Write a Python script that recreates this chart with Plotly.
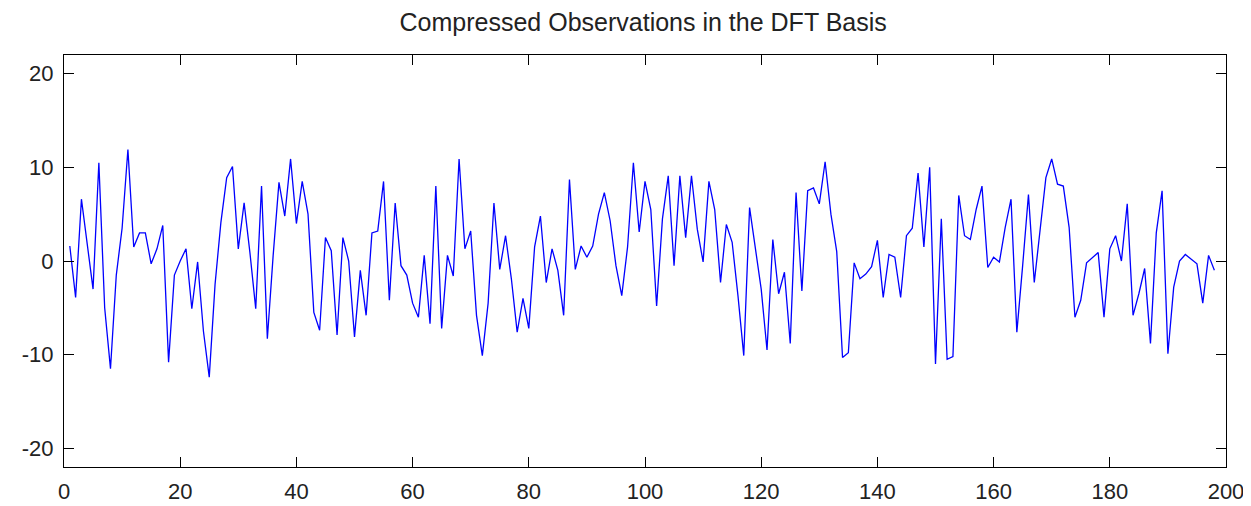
import plotly.graph_objects as go

title_text = "Compressed Observations in the DFT Basis"

x_values = list(range(1, 199))
y_values = [
    1.6, -3.9, 6.6, 2.0, -3.0, 10.5, -5.0, -11.5, -1.5, 3.5,
    11.9, 1.5, 3.0, 3.0, -0.3, 1.3, 3.8, -10.8, -1.5, 0.0,
    1.3, -5.1, -0.1, -7.5, -12.4, -2.5, 4.1, 8.9, 10.1, 1.3,
    6.2, 0.9, -5.1, 8.0, -8.3, 0.6, 8.4, 4.8, 10.9, 4.0,
    8.5, 5.0, -5.5, -7.4, 2.5, 1.1, -7.9, 2.5, 0.0, -8.1,
    -1.0, -5.8, 3.0, 3.2, 8.5, -4.2, 6.2, -0.5, -1.5, -4.5,
    -6.0, 0.6, -6.7, 8.0, -7.2, 0.6, -1.6, 10.9, 1.3, 3.2,
    -5.8, -10.1, -4.5, 6.2, -0.9, 2.7, -1.9, -7.6, -4.0, -7.2,
    1.5, 4.8, -2.3, 1.3, -1.0, -5.8, 8.7, -0.9, 1.6, 0.4,
    1.6, 5.0, 7.3, 4.3, -0.5, -3.7, 1.5, 10.5, 3.1, 8.5,
    5.5, -4.8, 4.5, 9.1, -0.5, 9.1, 2.5, 9.1, 3.4, -0.1,
    8.5, 5.5, -2.3, 3.9, 2.0, -3.7, -10.1, 5.7, 1.5, -3.0,
    -9.5, 2.3, -3.5, -1.2, -8.8, 7.3, -3.2, 7.5, 7.8, 6.1,
    10.6, 5.0, 1.0, -10.3, -9.8, -0.2, -1.9, -1.4, -0.6, 2.2,
    -3.9, 0.7, 0.4, -3.9, 2.7, 3.5, 9.4, 1.5, 10.0, -11.0,
    4.5, -10.5, -10.2, 7.0, 2.7, 2.3, 5.5, 8.0, -0.7, 0.4,
    -0.1, 3.6, 6.6, -7.6, -0.5, 7.1, -2.3, 3.0, 8.9, 10.9,
    8.2, 8.0, 3.6, -6.0, -4.2, -0.2, 0.3, 0.9, -6.0, 1.3,
    2.7, 0.0, 6.1, -5.8, -3.5, -0.8, -8.8, 3.0, 7.5, -9.9,
    -2.8, 0.0, 0.7, 0.2, -0.3, -4.5, 0.6, -1.0,
]

x_ticks = [0, 20, 40, 60, 80, 100, 120, 140, 160, 180, 200]
x_tick_labels = ["0", "20", "40", "60", "80", "100", "120", "140", "160", "180", "200"]
y_ticks = [-20, -10, 0, 10, 20]
y_tick_labels = ["-20", "-10", "0", "10", "20"]

font_family = "Liberation Sans, Arial, sans-serif"

fig = go.Figure()
fig.add_trace(go.Scatter(
    x=x_values, y=y_values, mode="lines",
    line=dict(color="#0000ff", width=1.3),
    showlegend=False,
))

axis_common = dict(
    showline=True, linecolor="black", linewidth=1.2, mirror="ticks",
    ticks="inside", ticklen=10, tickwidth=1.2, tickcolor="black",
    showgrid=False, zeroline=False, automargin=False,
    tickfont=dict(family=font_family, size=22, color="#222222"),
)

# page body has an 8px margin, so the figure is sized/offset to compensate
fig.update_layout(
    width=1243, height=498,
    margin=dict(l=56, r=25, t=47, b=39, autoexpand=False),
    paper_bgcolor="white", plot_bgcolor="white",
    title=dict(
        text=title_text, x=0.511, xanchor="center", y=0.972, yanchor="middle",
        font=dict(family=font_family, size=25, color="#222222"),
        automargin=False,
    ),
    xaxis=dict(range=[0, 200], tickvals=x_ticks, ticktext=x_tick_labels,
               ticklabelstandoff=4, **axis_common),
    yaxis=dict(range=[-22, 22], tickvals=y_ticks, ticktext=y_tick_labels,
               ticklabelstandoff=5, **axis_common),
)

fig.write_html("out.html")
